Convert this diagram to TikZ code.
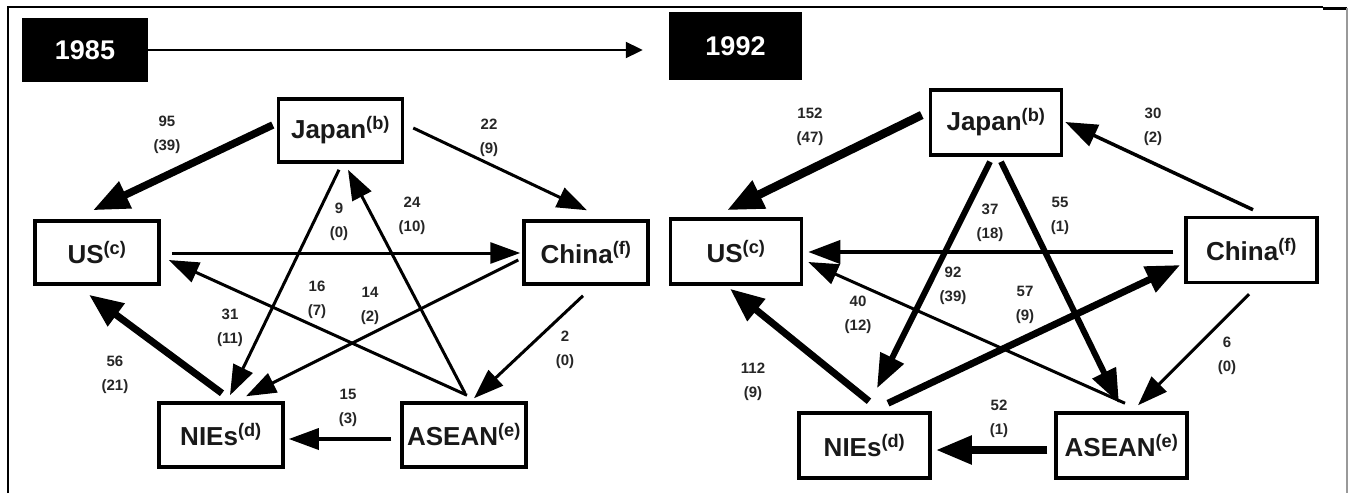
\documentclass[tikz,border=0pt]{standalone}
\usepackage{fontspec}
\setmainfont{Liberation Sans}
\usetikzlibrary{arrows.meta,calc}
\begin{document}
\begin{tikzpicture}[x=1pt,y=-1pt,
  box/.style={draw=black, line width=3.5pt, minimum width=124pt, minimum height=63pt, inner sep=0pt,
    font=\fontsize{26}{30}\selectfont\bfseries, text=black!90},
  boxr/.style={box, minimum width=131pt, minimum height=65pt},
  yr/.style={fill=black, inner sep=0pt, text=white, font=\fontsize{27}{30}\selectfont\bfseries},
  lbl/.style={align=center, inner sep=0pt, font=\fontsize{15}{24}\selectfont\bfseries, text=black!85},
  thinarr/.style={line width=3pt, -{Triangle[length=30pt,width=21pt]}},
  midarr/.style={line width=6pt, -{Triangle[length=34pt,width=25pt]}}
]
\useasboundingbox (0,0) rectangle (1348,493);
\fill[white] (0,0) rectangle (1348,493);
% frame
\draw[line width=2pt] (8,493) -- (8,7) -- (1323,7);
\draw[line width=3pt] (1323,8) -- (1347,8);
\draw[line width=2pt, black!40] (1347,8) -- (1347,493);
% years
\node[yr, minimum width=126pt, minimum height=64pt] (y85) at (85,50) {1985};
\node[yr, minimum width=133pt, minimum height=68pt] (y92) at (735.5,46) {1992};
\draw[line width=2pt, -{Triangle[length=17pt,width=16pt]}, shorten >=26pt] (y85.east) -- (y85.east -| y92.west);
% ---------- 1985 panel
\node[box] (jL) at (340.5,130.5) {Japan\textsuperscript{(b)}};
\node[box] (uL) at (97,252.5) {US\textsuperscript{(c)}};
\node[box] (cL) at (586,252.5) {China\textsuperscript{(f)}};
\node[box, minimum height=64pt] (nL) at (221,435) {NIEs\textsuperscript{(d)}};
\node[box, minimum height=64pt] (aL) at (464,435) {ASEAN\textsuperscript{(e)}};
\draw[line width=7.5pt, -{Triangle[length=36pt,width=28pt]}] ($(jL.west)+(-4,-5.5)$) -- ($(uL.north)+(-4,-9)$);
\draw[thinarr] ($(jL.east)+(9,-2.5)$) -- ($(cL.north)+(1,-9)$);
\draw[thinarr] ($(jL.south)+(-1.5,6)$) -- ($(nL.north)+(9,-6)$);
\draw[thinarr] ($(aL.north)+(1,-8)$) -- ($(jL.south)+(7.5,6)$);
\draw[thinarr] ($(uL.east)+(11,0.5)$) -- ($(cL.west)+(-2,0.5)$);
\draw[line width=7pt, -{Triangle[length=34pt,width=27pt]}] ($(nL.north)+(1,-8)$) -- ($(uL.south)+(-8,9)$);
\draw[thinarr] ($(aL.north)+(3,-6)$) -- ($(uL.east)+(8,7.5)$);
\draw[thinarr] ($(cL.west)+(-4,7.5)$) -- ($(nL.north)+(25,-5)$);
\draw[thinarr] ($(cL.south)+(-3,10)$) -- ($(aL.north)+(10,-3)$);
\draw[line width=3.5pt, -{Triangle[length=30pt,width=21pt]}] ($(aL.west)+(-9,4)$) -- ($(nL.east)+(4,4)$);
\node[lbl] (l1) at (167,135) {95\\(39)};
\node[lbl] (l2) at (489,138) {22\\(9)};
\node[lbl] (l3) at (412,216) {24\\(10)};
\node[lbl] (l4) at (339,222) {9\\(0)};
\node[lbl] (l5) at (317,300) {16\\(7)};
\node[lbl] (l6) at (370,306) {14\\(2)};
\node[lbl] (l7) at (230,328) {31\\(11)};
\node[lbl] (l8) at (115,375) {56\\(21)};
\node[lbl] (l9) at (565,350) {2\\(0)};
\node[lbl] (l10) at (348,408) {15\\(3)};
% ---------- 1992 panel
\node[boxr] (jR) at (996,122.5) {Japan\textsuperscript{(b)}};
\node[boxr] (uR) at (736,251.5) {US\textsuperscript{(c)}};
\node[boxr] (cR) at (1251.5,250) {China\textsuperscript{(f)}};
\node[boxr] (nR) at (864.5,445.5) {NIEs\textsuperscript{(d)}};
\node[boxr] (aR) at (1121.5,445.5) {ASEAN\textsuperscript{(e)}};
\draw[line width=8.5pt, -{Triangle[length=36pt,width=29pt]}] ($(jR.west)+(-7,-7.5)$) -- ($(uR.north)+(-9,-7)$);
\draw[line width=3.5pt, -{Triangle[length=32pt,width=23pt]}] ($(cR.north)+(1.5,-6)$) -- ($(jR.east)+(2,-0.5)$);
\draw[midarr] ($(jR.south)+(-6,5)$) -- ($(nR.north)+(12.5,-23)$);
\draw[midarr] ($(jR.south)+(5,5)$) -- ($(aR.north)+(-2.5,-8)$);
\draw[line width=4pt, -{Triangle[length=32pt,width=23pt]}] ($(cR.west)+(-11,2)$) -- ($(uR.east)+(5,0.5)$);
\draw[thinarr] ($(aR.north)+(3.5,-8)$) -- ($(uR.east)+(5,10.5)$);
\draw[line width=7pt, -{Triangle[length=34pt,width=27pt]}] ($(nR.north)+(4.5,-10)$) -- ($(uR.south)+(-6,3)$);
\draw[line width=7pt, -{Triangle[length=34pt,width=27pt]}] ($(nR.north)+(23.5,-8)$) -- ($(cR.west)+(-4,15)$);
\draw[thinarr] ($(cR.south)+(-2.5,10)$) -- ($(aR.north)+(16.5,-6)$);
\draw[line width=8pt, -{Triangle[length=36pt,width=27pt]}] ($(aR.west)+(-7,4.5)$) -- ($(nR.east)+(4,4.5)$);
\node[lbl] (r1) at (810,127) {152\\(47)};
\node[lbl] (r2) at (1153,127) {30\\(2)};
\node[lbl] (r3) at (990,223) {37\\(18)};
\node[lbl] (r4) at (1060,216) {55\\(1)};
\node[lbl] (r5) at (953,286) {92\\(39)};
\node[lbl] (r6) at (858,315) {40\\(12)};
\node[lbl] (r7) at (1025,305) {57\\(9)};
\node[lbl] (r8) at (753,382) {112\\(9)};
\node[lbl] (r9) at (1227,356) {6\\(0)};
\node[lbl] (r10) at (999,419) {52\\(1)};
\end{tikzpicture}
\end{document}
